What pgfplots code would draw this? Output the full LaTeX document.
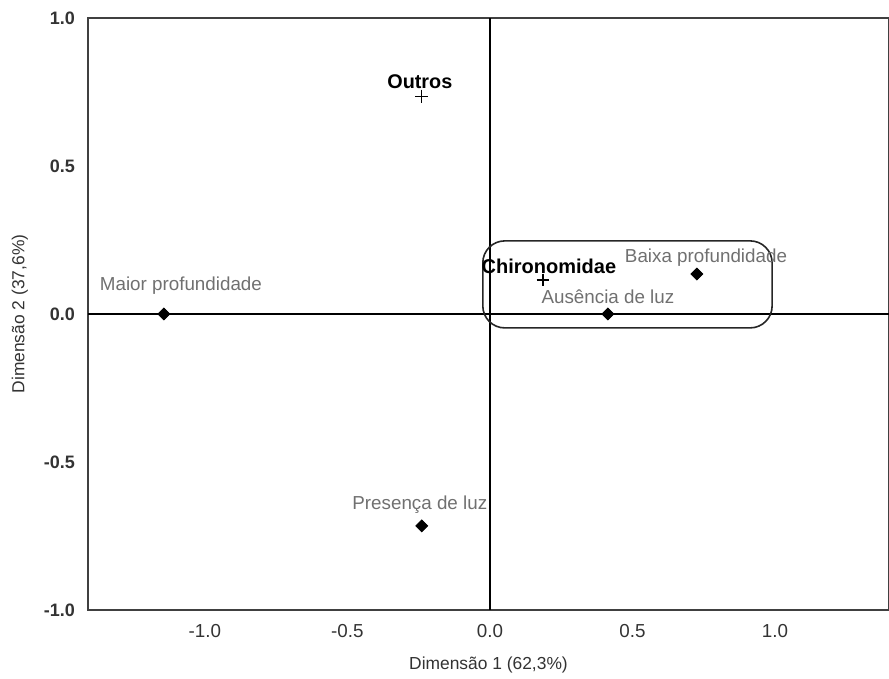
\documentclass[border=0pt]{standalone}
\usepackage{fontspec}
\setmainfont{Liberation Sans}
\usepackage{pgfplots}
\pgfplotsset{compat=1.18}
\definecolor{lbl}{RGB}{112,112,112}
\begin{document}
\begin{tikzpicture}
\useasboundingbox (-44pt,-34.5pt) rectangle (400.5pt,305pt);
\begin{axis}[
  at={(0,0)}, anchor=south west,
  scale only axis, width=400.5pt, height=296pt,
  xmin=-1.41, xmax=1.40, ymin=-1, ymax=1,
  xtick={-1,-0.5,0,0.5,1}, ytick={-1,-0.5,0,0.5,1},
  xticklabels={-1.0,-0.5,0.0,0.5,1.0},
  yticklabels={-1.0,-0.5,0.0,0.5,1.0},
  major tick length=0pt,
  axis line style={draw=black!75, line width=0.6pt},
  /pgf/number format/assume math mode=true,
  tick label style={font=\fontsize{9.4}{10}\selectfont, text=black!80},
  xticklabel style={yshift=-3.5pt},
  yticklabel style={xshift=-3pt, font=\fontsize{9}{10}\selectfont\bfseries},
  xlabel={Dimensão 1 (62,3\%)},
  ylabel={Dimensão 2 (37,6\%)},
  label style={font=\fontsize{8.7}{10}\selectfont, text=black!80},
  xlabel style={at={(axis description cs:0.5,-0.0929)}, anchor=center},
  ylabel style={at={(axis description cs:-0.085,0.5)}, anchor=center},
  clip=false,
]
% axes through origin
\draw[black, line width=0.9pt] (axis cs:-1.41,0) -- (axis cs:1.40,0);
\draw[black, line width=0.9pt] (axis cs:0,-1) -- (axis cs:0,1);
% rounded box
\draw[black!85, line width=0.8pt, rounded corners=11pt] (axis cs:-0.025,0.247) rectangle (axis cs:0.99,-0.047);
% categories (diamonds)
\addplot[only marks, mark=square*, mark size=2.1pt, mark options={rotate=45}, black] coordinates {
  (-1.144,0.0) (0.414,0.0) (0.726,0.135) (-0.239,-0.716)
};
% species (plus)
\addplot[only marks, mark=+, mark size=3.2pt, black, line width=0.6pt] coordinates {
  (-0.239,0.736) (0.186,0.115)
};
\node[font=\fontsize{9.9}{11}\selectfont\bfseries] at (axis cs:-0.246,0.784) {Outros};
\node[font=\fontsize{10}{11}\selectfont\bfseries] at (axis cs:0.207,0.162) {Chironomidae};
\node[font=\fontsize{9.4}{11}\selectfont, text=lbl] at (axis cs:0.758,0.189) {Baixa profundidade};
\node[font=\fontsize{9.4}{11}\selectfont, text=lbl] at (axis cs:0.414,0.057) {Ausência de luz};
\node[font=\fontsize{9.4}{11}\selectfont, text=lbl] at (axis cs:-1.084,0.095) {Maior profundidade};
\node[font=\fontsize{9.4}{11}\selectfont, text=lbl] at (axis cs:-0.246,-0.645) {Presença de luz};
\end{axis}
\end{tikzpicture}
\end{document}
